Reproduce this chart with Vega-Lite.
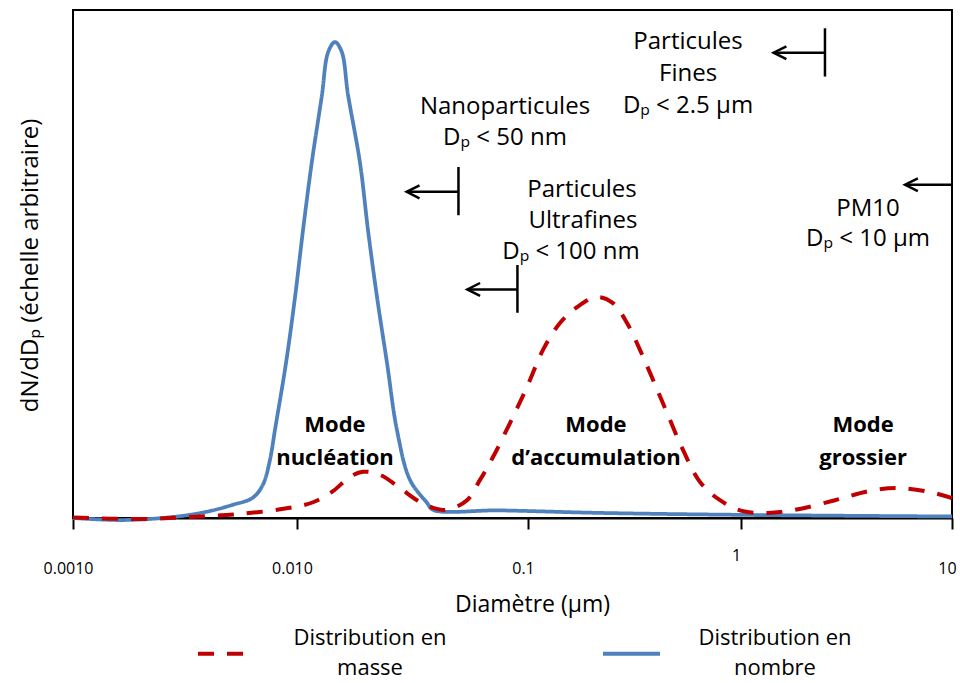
{
  "$schema": "https://vega.github.io/schema/vega-lite/v6.json",
  "width": 879,
  "height": 508,
  "autosize": {"type": "none"},
  "padding": {"left": 73, "top": 10, "right": 8, "bottom": 165},
  "background": "white",
  "config": {
    "view": {"stroke": "black", "strokeWidth": 2},
    "font": "Open Sans",
    "style": {"guide-label": {"lineHeight": 30}}
  },
  "datasets": {
    "nombre": [
      {"d": 0.001, "v": 0, "s": "Distribution en nombre"},
      {"d": 0.00167, "v": -0.4, "s": "Distribution en nombre"},
      {"d": 0.00279, "v": 0.2, "s": "Distribution en nombre"},
      {"d": 0.00392, "v": 1.2, "s": "Distribution en nombre"},
      {"d": 0.00517, "v": 2.6, "s": "Distribution en nombre"},
      {"d": 0.00635, "v": 4.0, "s": "Distribution en nombre"},
      {"d": 0.00705, "v": 6.6, "s": "Distribution en nombre"},
      {"d": 0.00757, "v": 11.4, "s": "Distribution en nombre"},
      {"d": 0.00797, "v": 17.3, "s": "Distribution en nombre"},
      {"d": 0.00893, "v": 30.5, "s": "Distribution en nombre"},
      {"d": 0.0098, "v": 43.5, "s": "Distribution en nombre"},
      {"d": 0.01062, "v": 56.7, "s": "Distribution en nombre"},
      {"d": 0.01158, "v": 69.9, "s": "Distribution en nombre"},
      {"d": 0.01279, "v": 82.9, "s": "Distribution en nombre"},
      {"d": 0.01366, "v": 91.8, "s": "Distribution en nombre"},
      {"d": 0.0146, "v": 93.7, "s": "Distribution en nombre"},
      {"d": 0.01561, "v": 91.8, "s": "Distribution en nombre"},
      {"d": 0.01662, "v": 83.4, "s": "Distribution en nombre"},
      {"d": 0.01874, "v": 69.9, "s": "Distribution en nombre"},
      {"d": 0.02029, "v": 56.7, "s": "Distribution en nombre"},
      {"d": 0.0222, "v": 43.5, "s": "Distribution en nombre"},
      {"d": 0.02453, "v": 30.5, "s": "Distribution en nombre"},
      {"d": 0.02709, "v": 17.3, "s": "Distribution en nombre"},
      {"d": 0.03084, "v": 7.5, "s": "Distribution en nombre"},
      {"d": 0.03653, "v": 3.0, "s": "Distribution en nombre"},
      {"d": 0.03879, "v": 1.6, "s": "Distribution en nombre"},
      {"d": 0.0756, "v": 1.5, "s": "Distribution en nombre"},
      {"d": 0.218, "v": 1.0, "s": "Distribution en nombre"},
      {"d": 1.1, "v": 0.6, "s": "Distribution en nombre"},
      {"d": 10, "v": 0.3, "s": "Distribution en nombre"}
    ],
    "masse": [
      {"d": 0.001, "v": 0.1, "s": "Distribution en masse"},
      {"d": 0.00198, "v": -0.2, "s": "Distribution en masse"},
      {"d": 0.00332, "v": 0.2, "s": "Distribution en masse"},
      {"d": 0.00556, "v": 0.8, "s": "Distribution en masse"},
      {"d": 0.0093, "v": 2.0, "s": "Distribution en masse"},
      {"d": 0.01173, "v": 3.1, "s": "Distribution en masse"},
      {"d": 0.01431, "v": 5.3, "s": "Distribution en masse"},
      {"d": 0.01696, "v": 8.1, "s": "Distribution en masse"},
      {"d": 0.01931, "v": 9.1, "s": "Distribution en masse"},
      {"d": 0.02287, "v": 8.5, "s": "Distribution en masse"},
      {"d": 0.02791, "v": 5.9, "s": "Distribution en masse"},
      {"d": 0.03307, "v": 3.5, "s": "Distribution en masse"},
      {"d": 0.03879, "v": 2.0, "s": "Distribution en masse"},
      {"d": 0.0446, "v": 1.6, "s": "Distribution en masse"},
      {"d": 0.05443, "v": 3.5, "s": "Distribution en masse"},
      {"d": 0.06197, "v": 7.5, "s": "Distribution en masse"},
      {"d": 0.07055, "v": 12.0, "s": "Distribution en masse"},
      {"d": 0.08357, "v": 18.7, "s": "Distribution en masse"},
      {"d": 0.09901, "v": 25.8, "s": "Distribution en masse"},
      {"d": 0.1176, "v": 33.1, "s": "Distribution en masse"},
      {"d": 0.1413, "v": 38.4, "s": "Distribution en masse"},
      {"d": 0.1698, "v": 41.5, "s": "Distribution en masse"},
      {"d": 0.2108, "v": 43.5, "s": "Distribution en masse"},
      {"d": 0.2506, "v": 42.3, "s": "Distribution en masse"},
      {"d": 0.2916, "v": 38.4, "s": "Distribution en masse"},
      {"d": 0.3355, "v": 33.1, "s": "Distribution en masse"},
      {"d": 0.3862, "v": 27.2, "s": "Distribution en masse"},
      {"d": 0.4494, "v": 20.7, "s": "Distribution en masse"},
      {"d": 0.5342, "v": 13.4, "s": "Distribution en masse"},
      {"d": 0.6421, "v": 7.1, "s": "Distribution en masse"},
      {"d": 0.797, "v": 3.5, "s": "Distribution en masse"},
      {"d": 1.011, "v": 1.4, "s": "Distribution en masse"},
      {"d": 1.343, "v": 1.0, "s": "Distribution en masse"},
      {"d": 1.803, "v": 1.6, "s": "Distribution en masse"},
      {"d": 2.79, "v": 3.5, "s": "Distribution en masse"},
      {"d": 4.044, "v": 5.3, "s": "Distribution en masse"},
      {"d": 5.428, "v": 5.9, "s": "Distribution en masse"},
      {"d": 7.866, "v": 5.1, "s": "Distribution en masse"},
      {"d": 10, "v": 3.9, "s": "Distribution en masse"}
    ],
    "shafts": [
      {"d": 0.02985, "d2": 0.05, "v": 64.2},
      {"d": 0.0546, "d2": 0.09, "v": 45.0},
      {"d": 1.427, "d2": 2.5, "v": 91.6},
      {"d": 5.99, "d2": 10, "v": 65.6}
    ],
    "bars": [
      {"d": 0.05, "v": 59.6, "v2": 69.1},
      {"d": 0.09, "v": 40.4, "v2": 49.8},
      {"d": 2.5, "v": 86.9, "v2": 96.4}
    ],
    "heads": [
      {"d": 0.02985, "v": 64.2},
      {"d": 0.0546, "v": 45.0},
      {"d": 1.427, "v": 91.6},
      {"d": 5.99, "v": 65.6}
    ],
    "notes": [
      {"d": 0.0795, "v": 80.9, "t": "Nanoparticules"},
      {"d": 0.0795, "v": 74.8, "t": "Dₚ < 50 nm"},
      {"d": 0.1793, "v": 64.6, "t": "Particules"},
      {"d": 0.1812, "v": 58.5, "t": "Ultrafines"},
      {"d": 0.1591, "v": 52.4, "t": "Dₚ < 100 nm"},
      {"d": 0.564, "v": 93.7, "t": "Particules"},
      {"d": 0.564, "v": 87.4, "t": "Fines"},
      {"d": 0.564, "v": 81.1, "t": "Dₚ < 2.5 µm"},
      {"d": 4.0, "v": 60.8, "t": "PM10"},
      {"d": 4.0, "v": 54.9, "t": "Dₚ < 10 µm"}
    ],
    "modes": [
      {"d": 0.0146, "v": 18.3, "t": "Mode"},
      {"d": 0.0146, "v": 11.8, "t": "nucléation"},
      {"d": 0.2085, "v": 18.3, "t": "Mode"},
      {"d": 0.2085, "v": 11.8, "t": "d’accumulation"},
      {"d": 3.79, "v": 18.3, "t": "Mode"},
      {"d": 3.79, "v": 11.8, "t": "grossier"}
    ]
  },
  "layer": [
    {
      "data": {"name": "nombre"},
      "mark": {"type": "line", "interpolate": "catmull-rom", "strokeWidth": 3.75},
      "encoding": {
        "x": {
          "field": "d", "type": "quantitative",
          "scale": {"type": "log", "domain": [0.001, 0.01, 0.1, 1, 10], "range": [0, 224, 455, 668, 879]},
          "axis": {
            "values": [0.001, 0.01, 0.1, 1, 10],
            "labelExpr": "datum.value == 0.001 ? '0.0010' : datum.value == 0.01 ? '0.010' : datum.value == 0.1 ? '0.1' : datum.value == 1 ? '1' : '10'",
            "labelFont": "Open Sans", "labelFontSize": 16, "labelColor": "black",
            "labelPadding": {"condition": {"test": "datum.value == 1", "value": 18}, "value": 31},
            "labelOffset": -5,
            "labelFlush": false, "labelOverlap": false, "labelBound": false,
            "tickSize": 11, "tickWidth": 2, "tickColor": "black",
            "domainColor": "black", "domainWidth": 2,
            "grid": false,
            "title": "Diamètre (µm)", "titleFont": "Open Sans", "titleFontSize": 23, "titleFontWeight": "normal", "titleColor": "black",
            "titleX": 459, "titleY": 86, "titleAlign": "center", "titleBaseline": "middle"
          }
        },
        "y": {
          "field": "v", "type": "quantitative",
          "scale": {"domain": [0, 100]},
          "axis": {
            "domain": false, "ticks": false, "labels": false, "grid": false,
            "title": "dN/dDₚ (échelle arbitraire)", "titleFont": "Open Sans", "titleFontSize": 24, "titleFontWeight": "normal", "titleColor": "black",
            "titleAngle": -90, "titleX": -43, "titleY": 255, "titleAlign": "center", "titleBaseline": "middle"
          }
        },
        "color": {
          "field": "s", "type": "nominal",
          "scale": {"domain": ["Distribution en masse", "Distribution en nombre"], "range": ["#C00000", "#4F81BD"]},
          "legend": {
            "orient": "none", "legendX": 123, "legendY": 613, "direction": "horizontal", "columns": 2,
            "title": null, "symbolType": "stroke", "symbolSize": 3249, "symbolStrokeWidth": 4,
            "labelFont": "Open Sans", "labelFontSize": 22, "labelColor": "black", "labelAlign": "center", "labelBaseline": "line-bottom", "labelOffset": 113,
            "labelExpr": "datum.label == 'Distribution en masse' ? ['Distribution en', 'masse'] : ['Distribution en', 'nombre']",
            "columnPadding": 148, "padding": 0, "labelLimit": 300
          }
        },
        "strokeDash": {
          "field": "s", "type": "nominal",
          "scale": {"domain": ["Distribution en masse", "Distribution en nombre"], "range": [[16, 13], [1, 0]]},
          "legend": {
            "orient": "none", "legendX": 123, "legendY": 613, "direction": "horizontal", "columns": 2,
            "title": null, "symbolType": "stroke", "symbolSize": 3249, "symbolStrokeWidth": 4,
            "labelFont": "Open Sans", "labelFontSize": 22, "labelColor": "black", "labelAlign": "center", "labelBaseline": "line-bottom", "labelOffset": 113,
            "labelExpr": "datum.label == 'Distribution en masse' ? ['Distribution en', 'masse'] : ['Distribution en', 'nombre']",
            "columnPadding": 148, "padding": 0, "labelLimit": 300
          }
        }
      }
    },
    {
      "data": {"name": "masse"},
      "mark": {"type": "line", "interpolate": "catmull-rom", "strokeWidth": 4},
      "encoding": {
        "x": {"field": "d", "type": "quantitative"},
        "y": {"field": "v", "type": "quantitative"},
        "color": {"field": "s", "type": "nominal"},
        "strokeDash": {"field": "s", "type": "nominal"}
      }
    },
    {
      "data": {"name": "shafts"},
      "mark": {"type": "rule", "color": "black", "strokeWidth": 2.5},
      "encoding": {
        "x": {"field": "d", "type": "quantitative"},
        "x2": {"field": "d2"},
        "y": {"field": "v", "type": "quantitative"}
      }
    },
    {
      "data": {"name": "bars"},
      "mark": {"type": "rule", "color": "black", "strokeWidth": 2.5},
      "encoding": {
        "x": {"field": "d", "type": "quantitative"},
        "y": {"field": "v", "type": "quantitative"},
        "y2": {"field": "v2"}
      }
    },
    {
      "data": {"name": "heads"},
      "mark": {"type": "point", "shape": "M 1.6 -0.8 L 0 0 L 1.6 0.8", "filled": false, "stroke": "black", "strokeWidth": 2.5, "size": 256, "opacity": 1},
      "encoding": {
        "x": {"field": "d", "type": "quantitative"},
        "y": {"field": "v", "type": "quantitative"}
      }
    },
    {
      "data": {"name": "notes"},
      "mark": {"type": "text", "font": "Open Sans", "fontSize": 24, "align": "center", "baseline": "middle", "color": "black"},
      "encoding": {
        "x": {"field": "d", "type": "quantitative"},
        "y": {"field": "v", "type": "quantitative"},
        "text": {"field": "t"}
      }
    },
    {
      "data": {"name": "modes"},
      "mark": {"type": "text", "font": "Open Sans", "fontSize": 22, "fontWeight": "bold", "align": "center", "baseline": "middle", "color": "black"},
      "encoding": {
        "x": {"field": "d", "type": "quantitative"},
        "y": {"field": "v", "type": "quantitative"},
        "text": {"field": "t"}
      }
    }
  ]
}
